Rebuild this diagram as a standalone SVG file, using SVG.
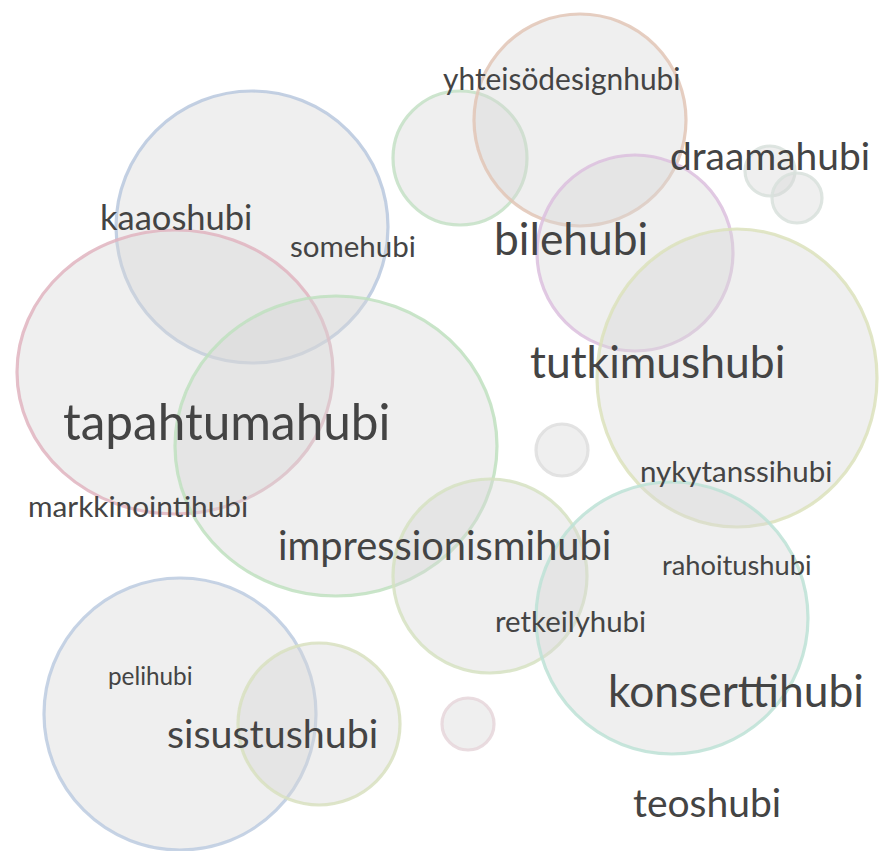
<svg xmlns="http://www.w3.org/2000/svg" width="881" height="851" viewBox="0 0 881 851">
<style>
.b{fill:#d8d8d8;fill-opacity:0.4;stroke-width:3.2;stroke-opacity:0.85}
.t{font-family:Lato,"Liberation Sans",sans-serif;fill:#444}
</style>
<rect width="881" height="851" fill="#fff"/>
<g id="bubbles">
<g id="b-kaaos"><circle class="b" cx="252" cy="227" r="136" stroke="#b9c8de"/></g>
<g id="b-tapahtuma"><ellipse class="b" cx="175" cy="372" rx="158" ry="142" stroke="#e0b4c0"/></g>
<g id="b-impress-big"><ellipse class="b" cx="336" cy="446" rx="161" ry="150" stroke="#bfe0c0"/></g>
<g id="b-yht-green"><circle class="b" cx="460" cy="158" r="67" stroke="#c4e0c6"/></g>
<g id="b-yht"><circle class="b" cx="580" cy="120" r="106" stroke="#e2c6b6"/></g>
<g id="b-bile"><circle class="b" cx="635" cy="253" r="98" stroke="#dcc0de"/></g>
<g id="b-draama1"><circle class="b" cx="770" cy="171" r="25" stroke="#d8e0dc"/></g>
<g id="b-draama2"><circle class="b" cx="797" cy="198" r="25" stroke="#d8e0dc"/></g>
<g id="b-tutkimus"><ellipse class="b" cx="737" cy="378" rx="140" ry="149" stroke="#dce2bc"/></g>
<g id="b-small1"><circle class="b" cx="562" cy="450" r="26" stroke="#dedede"/></g>
<g id="b-impress"><circle class="b" cx="490" cy="576" r="97" stroke="#d6e2c2"/></g>
<g id="b-konsertti"><circle class="b" cx="672" cy="618" r="136" stroke="#bde2d6"/></g>
<g id="b-small2"><circle class="b" cx="468" cy="724" r="26" stroke="#e6d6da"/></g>
<g id="b-peli"><circle class="b" cx="180" cy="714" r="136" stroke="#bccbe0"/></g>
<g id="b-sisustus"><circle class="b" cx="319" cy="724" r="81" stroke="#d8e0c0"/></g>
</g>
<g id="labels">
<text class="t" x="100" y="230" font-size="34.5">kaaoshubi</text>
<text class="t" x="290" y="257" font-size="29.5">somehubi</text>
<text class="t" x="63" y="440" font-size="49.5">tapahtumahubi</text>
<text class="t" x="28" y="517" font-size="29.8">markkinointihubi</text>
<text class="t" x="278" y="560" font-size="39.8">impressionismihubi</text>
<text class="t" x="108" y="685" font-size="24.3">pelihubi</text>
<text class="t" x="167" y="748" font-size="39.4">sisustushubi</text>
<text class="t" x="443" y="90" font-size="29.9">yhteisödesignhubi</text>
<text class="t" x="670" y="170" font-size="38.9">draamahubi</text>
<text class="t" x="494" y="255" font-size="44.3">bilehubi</text>
<text class="t" x="530" y="378" font-size="44.4">tutkimushubi</text>
<text class="t" x="640" y="482" font-size="29.5">nykytanssihubi</text>
<text class="t" x="662" y="575" font-size="27.3">rahoitushubi</text>
<text class="t" x="495" y="632" font-size="29.4">retkeilyhubi</text>
<text class="t" x="608" y="707" font-size="44.3">konserttihubi</text>
<text class="t" x="633" y="817" font-size="39">teoshubi</text>
</g>
</svg>
